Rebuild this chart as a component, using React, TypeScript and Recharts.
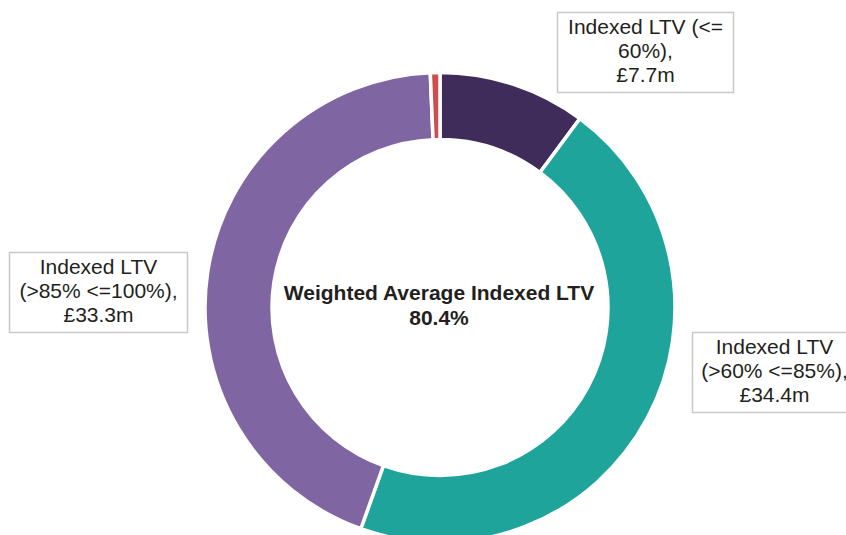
import React from 'react';
import { PieChart, Pie, Cell } from 'recharts';

// LTV bands, clockwise from 12 o'clock
const bandNames = [
  'Indexed LTV (<= 60%)',
  'Indexed LTV (>60% <=85%)',
  'Indexed LTV (>85% <=100%)',
  'Indexed LTV (>100%)',
];
const bandValues = [7.7, 34.4, 33.3, 0.5];
const bandColors = ['#3f2c5a', '#1ea49b', '#7f66a2', '#cb4f4c'];

// label text, split the way the boxes wrap it
const labelLines = [
  ['Indexed LTV (<=', '60%),'],
  ['Indexed LTV', '(>60% <=85%),'],
  ['Indexed LTV', '(>85% <=100%),'],
  null,
];

// where each label box sits
const labelBoxes = [
  { x: 557.5, y: 12.5, w: 176, h: 80 },
  { x: 692.5, y: 332.5, w: 164, h: 80 },
  { x: 9.5, y: 252.5, w: 178, h: 80 },
  null,
];

const centerTitle = 'Weighted Average Indexed LTV';
const centerValue = '80.4%';

const data = bandNames.map((name, i) => ({ name, value: bandValues[i] }));

const FONT = '"Liberation Sans", Arial, Helvetica, sans-serif';

const renderLabel = (props: any) => {
  const i = props.index;
  const box = labelBoxes[i];
  const lines = labelLines[i];
  if (!box || !lines) return null;
  const all = [...lines, `£${bandValues[i]}m`];
  const cx = box.x + box.w / 2;
  return (
    <g>
      <rect x={box.x} y={box.y} width={box.w} height={box.h} fill="#fff" stroke="#c8c8c8" strokeWidth={1.5} />
      {all.map((t, k) => (
        <text
          key={k}
          x={cx}
          y={box.y + 21 + k * 24}
          textAnchor="middle"
          fontSize={21}
          fontFamily={FONT}
          fill="#231f20"
        >
          {t}
        </text>
      ))}
    </g>
  );
};

export default function App() {
  return (
    <div style={{ position: 'absolute', left: 0, top: 0, width: 846, height: 535, background: '#fff', overflow: 'hidden' }}>
      <PieChart width={846} height={535} margin={{ top: 0, right: 0, bottom: 0, left: 0 }}>
        <Pie
          data={data}
          dataKey="value"
          nameKey="name"
          cx={440}
          cy={307.5}
          innerRadius={168}
          outerRadius={235}
          startAngle={90}
          endAngle={-270}
          stroke="#fff"
          strokeWidth={3.5}
          label={renderLabel}
          labelLine={false}
          isAnimationActive={false}
        >
          {data.map((d, i) => (
            <Cell key={d.name} fill={bandColors[i]} />
          ))}
        </Pie>
        <text x={439} y={300} textAnchor="middle" fontSize={21} fontWeight="bold" fontFamily={FONT} fill="#231f20">
          {centerTitle}
        </text>
        <text x={439} y={325} textAnchor="middle" fontSize={21} fontWeight="bold" fontFamily={FONT} fill="#231f20">
          {centerValue}
        </text>
      </PieChart>
    </div>
  );
}
